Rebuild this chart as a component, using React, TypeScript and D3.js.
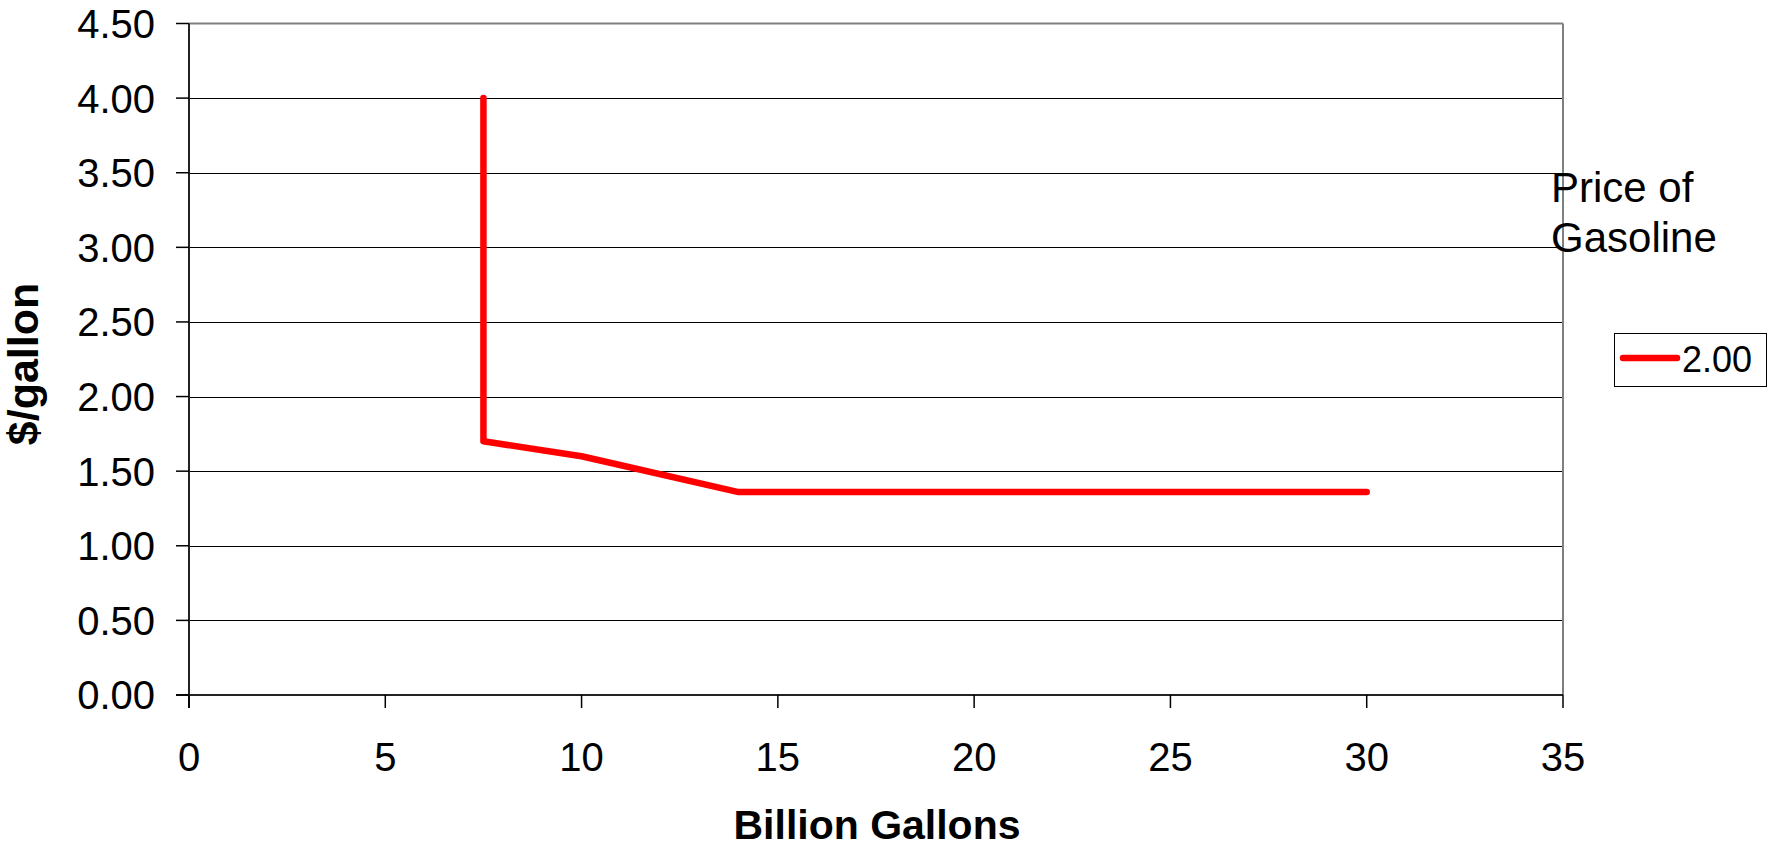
import React from "react";
import * as d3 from "d3";

const xValues = [7.5, 7.5, 10, 14, 30];
const yValues = [4.0, 1.7, 1.6, 1.36, 1.36];
const xTicks = [0, 5, 10, 15, 20, 25, 30, 35];
const yTicks = [0, 0.5, 1, 1.5, 2, 2.5, 3, 3.5, 4, 4.5];
const seriesName = "2.00";
const legendTitle = ["Price of", "Gasoline"];
const xTitle = "Billion Gallons";
const yTitle = "$/gallon";

const W = 1774;
const H = 848;
const left = 189;
const right = 1563;
const top = 23.5;
const bottom = 695;
const font = "'Liberation Sans', Arial, sans-serif";

export default function App() {
  const x = d3.scaleLinear().domain([0, 35]).range([left, right]);
  const y = d3.scaleLinear().domain([0, 4.5]).range([bottom, top]);
  const pts: [number, number][] = xValues.map((v, i) => [v, yValues[i]]);
  const line = d3
    .line<[number, number]>()
    .x((d) => x(d[0]))
    .y((d) => y(d[1]));

  return (
    <svg
      width={W}
      height={H}
      style={{ position: "absolute", left: 0, top: 0, background: "#fff" }}
      fontFamily={font}
    >
      <rect x={0} y={0} width={W} height={H} fill="#fff" />
      {yTicks
        .filter((t) => t > 0 && t < 4.5)
        .map((t) => (
          <line
            key={"g" + t}
            x1={left}
            x2={right}
            y1={Math.round(y(t)) + 0.5}
            y2={Math.round(y(t)) + 0.5}
            stroke="#000"
            strokeWidth={1}
          />
        ))}
      <line x1={left} x2={right} y1={top} y2={top} stroke="#808080" strokeWidth={2} />
      <line x1={right} x2={right} y1={top} y2={bottom} stroke="#808080" strokeWidth={2} />
      <line x1={left} x2={left} y1={top} y2={bottom + 13} stroke="#222" strokeWidth={2} />
      <line x1={left - 13} x2={right} y1={bottom} y2={bottom} stroke="#222" strokeWidth={2} />
      {yTicks.map((t) => (
        <g key={"yt" + t}>
          <line x1={left - 13} x2={left} y1={y(t)} y2={y(t)} stroke="#000" strokeWidth={1.5} />
          <text x={155} y={y(t)} dy="0.36em" textAnchor="end" fontSize={40} fill="#000">
            {t.toFixed(2)}
          </text>
        </g>
      ))}
      {xTicks.map((t) => (
        <g key={"xt" + t}>
          <line x1={x(t)} x2={x(t)} y1={bottom} y2={bottom + 13} stroke="#000" strokeWidth={1.5} />
          <text x={x(t)} y={771} textAnchor="middle" fontSize={40} fill="#000">
            {t}
          </text>
        </g>
      ))}
      <path
        d={line(pts) || ""}
        fill="none"
        stroke="#ff0000"
        strokeWidth={6.5}
        strokeLinecap="round"
        strokeLinejoin="round"
      />
      <text x={877} y={839} textAnchor="middle" fontSize={41} fontWeight="bold" fill="#000">
        {xTitle}
      </text>
      <text
        transform={`translate(38,364) rotate(-90)`}
        textAnchor="middle"
        fontSize={43}
        fontWeight="bold"
        fill="#000"
      >
        {yTitle}
      </text>
      {legendTitle.map((s, i) => (
        <text key={s} x={1551} y={202 + i * 50} fontSize={42} fill="#000">
          {s}
        </text>
      ))}
      <rect x={1614.5} y={333.5} width={152} height={53} fill="#fff" stroke="#000" strokeWidth={1} />
      <line x1={1623} x2={1677} y1={358} y2={358} stroke="#ff0000" strokeWidth={6.5} strokeLinecap="round" />
      <text x={1682} y={372} fontSize={36} fill="#000">
        {seriesName}
      </text>
    </svg>
  );
}
